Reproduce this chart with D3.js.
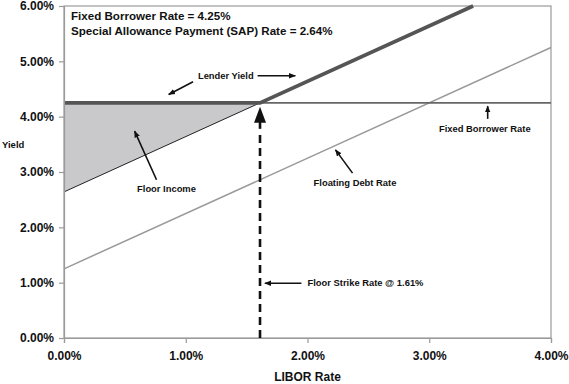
<!DOCTYPE html>
<html>
<head>
<meta charset="utf-8">
<script src="https://cdn.jsdelivr.net/npm/d3@7"></script>
<style>
  body { margin: 0; background: #fff; }
  svg { font-family: "Liberation Sans", Arial, sans-serif; font-weight: bold; }
</style>
</head>
<body>
<script>
// chart values
const fixedRate = 4.25;
const sapRate = 2.64;
const strikeRate = 1.61;
const floatSpread = 1.25;
const liborTicks = [0, 1, 2, 3, 4];
const yieldTicks = [0, 1, 2, 3, 4, 5, 6];
const lenderYield = [[0, 4.25], [1.61, 4.25], [3.36, 6.00]];
const floorLine = [[0, 2.64], [1.61, 4.25]];
const floatingDebt = [[0, 1.25], [4, 5.25]];
const fixedBorrower = [[0, 4.25], [4, 4.25]];
const floorArea = [[0, 4.25], [1.61, 4.25], [0, 2.64]];

// annotation labels: text anchor point, arrow from -> to (in data units)
const notes = [
  { text: "Lender Yield", at: [1.10, 4.68], arrows: [[[1.06, 4.63], [0.86, 4.40]], [[1.59, 4.74], [1.90, 4.74]]] },
  { text: "Floor Income", at: [0.60, 2.64], arrows: [[[0.76, 2.86], [0.58, 3.74]]] },
  { text: "Floating Debt Rate", at: [2.05, 2.75], arrows: [[[2.37, 2.98], [2.23, 3.40]]] },
  { text: "Fixed Borrower Rate", at: [3.08, 3.72], arrows: [[[3.48, 3.96], [3.48, 4.19]]] },
  { text: "Floor Strike Rate @ 1.61%", at: [2.00, 0.94], arrows: [[[1.95, 0.99], [1.65, 0.99]]] }
];
const headerLines = ["Fixed Borrower Rate = 4.25%", "Special Allowance Payment (SAP) Rate = 2.64%"];

const W = 569, H = 384;
const margin = { left: 64, right: 18, top: 6, bottom: 46 };

const x = d3.scaleLinear().domain([0, 4]).range([margin.left, W - margin.right]);
const y = d3.scaleLinear().domain([0, 6]).range([H - margin.bottom, margin.top]);

const svg = d3.select("body").append("svg").attr("width", W).attr("height", H);

const defs = svg.append("defs");
defs.append("marker")
  .attr("id", "head")
  .attr("viewBox", "0 0 10 10")
  .attr("refX", 9).attr("refY", 5)
  .attr("markerWidth", 7).attr("markerHeight", 7)
  .attr("markerUnits", "userSpaceOnUse")
  .attr("orient", "auto")
  .append("path").attr("d", "M0,1 L10,5 L0,9 Z").attr("fill", "#111");

const line = d3.line().x(d => x(d[0])).y(d => y(d[1]));

// plot frame
svg.append("rect")
  .attr("x", x(0)).attr("y", y(6))
  .attr("width", x(4) - x(0)).attr("height", y(0) - y(6))
  .attr("fill", "none").attr("stroke", "#9a9a9a").attr("stroke-width", 1.2);

// floor income area
svg.append("path").attr("d", line(floorArea) + "Z").attr("fill", "#c9c9cc");

// lines
svg.append("path").attr("d", line(floatingDebt)).attr("fill", "none").attr("stroke", "#999").attr("stroke-width", 1.5);
svg.append("path").attr("d", line(fixedBorrower)).attr("fill", "none").attr("stroke", "#666").attr("stroke-width", 1.6);
svg.append("path").attr("d", line(floorLine)).attr("fill", "none").attr("stroke", "#222").attr("stroke-width", 1);
svg.append("path").attr("d", line(lenderYield)).attr("fill", "none").attr("stroke", "#555").attr("stroke-width", 3.6);

// strike dashed line with arrowhead
svg.append("line")
  .attr("x1", x(strikeRate)).attr("x2", x(strikeRate))
  .attr("y1", y(0)).attr("y2", y(3.72))
  .attr("stroke", "#111").attr("stroke-width", 2.6).attr("stroke-dasharray", "8,5");
svg.append("line")
  .attr("x1", x(strikeRate)).attr("x2", x(strikeRate))
  .attr("y1", y(3.78)).attr("y2", y(3.95))
  .attr("stroke", "#111").attr("stroke-width", 2.6);
const tipY = y(4.18), baseY = y(3.89), sx = x(strikeRate);
svg.append("path")
  .attr("d", `M${sx},${tipY} L${sx + 6},${baseY} L${sx - 6},${baseY} Z`)
  .attr("fill", "#111");

// axes
const xAxis = d3.axisBottom(x).tickValues(liborTicks).tickSize(5).tickFormat(d => d.toFixed(2) + "%");
const yAxis = d3.axisLeft(y).tickValues(yieldTicks).tickSize(5).tickFormat(d => d.toFixed(2) + "%");

const gx = svg.append("g").attr("transform", `translate(0,${y(0)})`).call(xAxis);
const gy = svg.append("g").attr("transform", `translate(${x(0)},0)`).call(yAxis);
[gx, gy].forEach(g => {
  g.select(".domain").attr("stroke", "#9a9a9a").attr("stroke-width", 1.2);
  g.selectAll(".tick line").attr("stroke", "#9a9a9a").attr("stroke-width", 1.2);
  g.selectAll(".tick text").attr("fill", "#111").style("font-size", "12px").style("font-weight", "bold")
    .style("font-family", '"Liberation Sans", Arial, sans-serif');
});
gx.selectAll(".tick text").attr("dy", "1.2em");
gy.selectAll(".tick text").attr("x", -10);

// axis titles
svg.append("text").attr("x", (x(0) + x(4)) / 2).attr("y", 381)
  .attr("text-anchor", "middle").style("font-size", "12px").attr("fill", "#111").text("LIBOR Rate");
svg.append("text").attr("x", 2).attr("y", 148)
  .style("font-size", "9.5px").attr("fill", "#111").text("Yield");

// header
svg.selectAll(".hdr").data(headerLines).enter().append("text")
  .attr("x", x(0) + 7).attr("y", (d, i) => 20 + i * 14.5)
  .style("font-size", "11.6px").attr("fill", "#111").text(d => d);

// annotations
notes.forEach(n => {
  svg.append("text").attr("x", x(n.at[0])).attr("y", y(n.at[1]))
    .style("font-size", "9.4px").attr("fill", "#111").text(n.text);
  n.arrows.forEach(a => {
    svg.append("line")
      .attr("x1", x(a[0][0])).attr("y1", y(a[0][1]))
      .attr("x2", x(a[1][0])).attr("y2", y(a[1][1]))
      .attr("stroke", "#111").attr("stroke-width", 1.6)
      .attr("marker-end", "url(#head)");
  });
});
</script>
</body>
</html>
